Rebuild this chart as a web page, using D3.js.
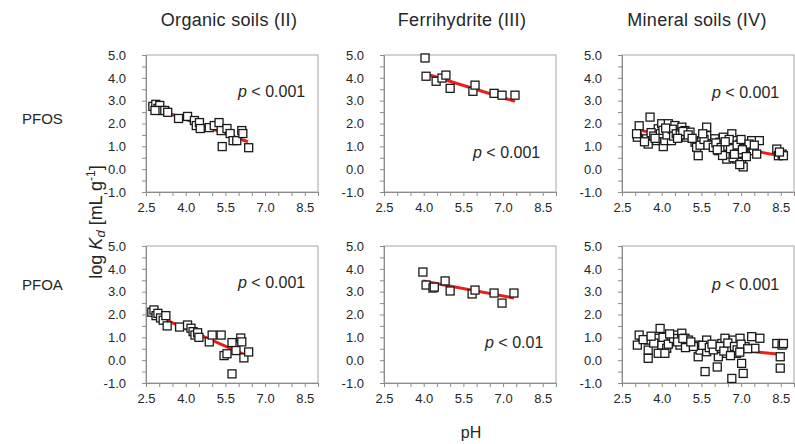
<!DOCTYPE html>
<html>
<head>
<meta charset="utf-8">
<script src="https://cdn.jsdelivr.net/npm/d3@7"></script>
<style>
  body { margin: 0; background: #fff; }
  svg text { font-family: "Liberation Sans", Arial, sans-serif; fill: #262626; }
</style>
</head>
<body>
<svg id="chart" width="795" height="444"></svg>
<script>
// ---- data (pH, log Kd) ----
const colTitles = ["Organic soils (II)", "Ferrihydrite (III)", "Mineral soils (IV)"];
const rowTitles = ["PFOS", "PFOA"];
const pLabels = [["< 0.001", "< 0.001", "< 0.001"], ["< 0.001", "< 0.01", "< 0.001"]];
const xTickLabels = [2.5, 4.0, 5.5, 7.0, 8.5];
const yTickLabels = [-1, 0, 1, 2, 3, 4, 5];

const orgPfosPh = [2.76, 2.87, 2.95, 3.02, 3.10, 2.84, 3.21, 3.32, 3.73, 4.07, 4.33, 4.40, 4.52, 4.55, 4.89, 5.08, 5.26, 5.34, 5.56, 5.68, 5.38, 5.79, 5.93, 6.12, 6.16, 6.38];
const orgPfosKd = [2.75, 2.84, 2.66, 2.79, 2.57, 2.57, 2.57, 2.49, 2.22, 2.31, 2.13, 1.91, 2.04, 1.78, 1.82, 1.91, 2.04, 1.69, 1.78, 1.56, 0.99, 1.25, 1.25, 1.69, 1.56, 0.94];
const orgPfosFit = [[2.76, 2.70], [6.35, 1.20]];

const ferPfosPh = [4.05, 4.09, 4.47, 4.69, 4.84, 5.00, 5.86, 5.94, 6.66, 6.96, 7.45];
const ferPfosKd = [4.87, 4.07, 3.85, 3.99, 4.12, 3.54, 3.41, 3.68, 3.32, 3.24, 3.24];
const ferPfosFit = [[4.01, 4.20], [7.45, 2.97]];

const minPfosPh = [3.08, 3.15, 3.43, 3.49, 3.56, 3.81, 3.87, 4.00, 4.06, 4.12, 4.25, 4.31, 4.37, 4.50, 4.63, 4.76, 4.88, 4.94, 5.07, 5.26, 5.32, 5.38, 5.51, 5.70, 5.70, 5.89, 6.01, 6.14, 6.20, 6.33, 6.39, 6.46, 6.58, 6.65, 6.71, 6.77, 6.83, 6.96, 7.02, 7.08, 7.15, 7.40, 7.46, 7.59, 7.69, 8.35, 8.41, 8.55, 8.60,
  3.05, 3.60, 3.70, 3.95, 4.05, 4.20, 4.40, 4.45, 4.55, 4.70, 4.80, 5.00, 5.45, 5.60, 5.75, 5.95, 6.05, 6.25, 6.30, 6.50, 6.55, 6.60, 6.70, 6.85, 6.90, 7.00, 7.10, 7.30, 7.50, 8.45,
  3.35, 3.75, 4.15, 4.60, 5.15, 5.55, 6.10, 6.40, 6.75, 7.05, 7.20, 6.95];
const minPfosKd = [1.40, 1.90, 1.33, 1.10, 2.28, 1.25, 1.77, 1.99, 0.99, 1.25, 1.99, 1.62, 1.25, 1.91, 1.62, 1.84, 1.69, 1.40, 1.62, 1.18, 0.96, 0.59, 1.25, 1.84, 1.47, 1.10, 1.33, 0.81, 1.18, 1.40, 0.81, 0.44, 0.66, 1.55, 1.25, 0.88, 0.44, 1.10, 0.30, 0.10, 0.66, 1.25, 0.81, 0.66, 1.25, 0.88, 0.59, 0.66, 0.59,
  1.55, 1.60, 1.45, 1.55, 1.70, 1.50, 1.75, 1.45, 1.55, 1.50, 1.65, 1.50, 1.05, 1.30, 1.05, 0.95, 1.15, 0.95, 0.60, 1.00, 1.30, 0.90, 0.50, 1.05, 0.70, 1.30, 0.90, 1.10, 1.05, 0.75,
  1.20, 1.35, 1.80, 1.35, 1.35, 1.55, 0.85, 1.20, 0.65, 0.85, 0.55, 0.20];
const minPfosFit = [[3.07, 1.72], [8.66, 0.55]];

const orgPfoaPh = [2.72, 2.80, 2.88, 2.95, 3.05, 3.15, 3.25, 3.30, 3.77, 4.07, 4.20, 4.28, 4.35, 4.45, 4.50, 4.89, 5.00, 5.34, 5.45, 5.56, 5.75, 5.75, 5.90, 6.08, 6.12, 6.20, 6.38];
const orgPfoaKd = [2.10, 2.20, 1.95, 2.05, 1.85, 1.75, 1.95, 1.50, 1.45, 1.54, 1.40, 1.25, 1.10, 1.20, 1.00, 0.80, 1.10, 1.10, 0.20, 0.28, 0.77, -0.60, 0.42, 0.97, 0.80, 0.10, 0.36];
const orgPfoaFit = [[2.76, 2.02], [6.35, 0.18]];

const ferPfoaPh = [3.97, 4.09, 4.35, 4.40, 4.81, 5.00, 5.83, 5.94, 6.66, 6.96, 7.41];
const ferPfoaKd = [3.86, 3.29, 3.16, 3.20, 3.47, 3.03, 2.90, 3.07, 2.94, 2.50, 2.94];
const ferPfoaFit = [[3.97, 3.47], [7.41, 2.72]];

const minPfoaPh = [3.15, 3.08, 3.49, 3.49, 3.49, 3.94, 3.87, 4.00, 3.87, 4.19, 4.12, 4.38, 4.57, 4.76, 4.69, 4.88, 5.01, 5.32, 5.38, 5.45, 5.70, 5.70, 5.64, 6.08, 6.14, 6.27, 6.39, 6.46, 6.58, 6.65, 6.71, 6.83, 6.90, 6.96, 7.02, 7.08, 7.15, 7.40, 7.52, 7.71, 8.35, 8.55, 8.48, 8.48, 8.60,
  3.30, 3.70, 4.05, 4.25, 4.45, 4.60, 4.90, 5.20, 5.55, 5.80, 5.95, 6.20, 6.35, 6.50, 6.75, 6.85, 7.00, 7.25, 6.10,
  3.60, 4.30, 4.80, 5.10, 5.90, 6.60, 6.95];
const minPfoaKd = [1.10, 0.66, 0.88, 0.44, 0.08, 1.39, 0.96, 0.66, 0.30, 0.52, 0.30, 0.88, 1.10, 1.18, 0.66, 0.96, 0.88, 0.66, 0.15, 0.44, 0.88, 0.37, -0.50, 0.52, 0.15, 0.73, 0.96, 0.30, 0.44, -0.80, 0.88, 0.30, 0.59, 0.96, -0.14, -0.58, 0.59, 1.03, 0.52, 0.96, 0.73, 0.66, 0.15, -0.35, 0.73,
  0.90, 0.75, 1.00, 0.70, 0.95, 0.80, 0.55, 0.60, 0.65, 0.55, 0.45, 0.60, 0.40, 0.75, 0.60, 0.45, 0.70, 0.50, -0.30,
  1.05, 1.15, 0.95, 0.80, 0.70, 0.20, 0.35];
const minPfoaFit = [[3.07, 0.88], [8.36, 0.27]];

// ---- layout ----
const panelLeft = [146, 384, 622];
const panelTop = [55, 246];
const pw = 172, ph = 137;
// p-value label offset inside each panel [dx, baseline dy]
const pPos = [[[92, 42], [89, 103], [90, 43]], [[92, 42], [101, 102], [90, 44]]];

const panels = [
  [[orgPfosPh, orgPfosKd, orgPfosFit], [ferPfosPh, ferPfosKd, ferPfosFit], [minPfosPh, minPfosKd, minPfosFit]],
  [[orgPfoaPh, orgPfoaKd, orgPfoaFit], [ferPfoaPh, ferPfoaKd, ferPfoaFit], [minPfoaPh, minPfoaKd, minPfoaFit]]
];

const svg = d3.select("#chart");
const axisCol = "#8c8c8c";

panels.forEach((row, r) => {
  row.forEach((p, c) => {
    const x0 = panelLeft[c], y0 = panelTop[r];
    const x = d3.scaleLinear().domain([2.5, 9.0]).range([x0, x0 + pw]);
    const y = d3.scaleLinear().domain([-1, 5]).range([y0 + ph, y0]);
    const g = svg.append("g");

    // frame (top / right)
    g.append("rect")
      .attr("x", x0).attr("y", y0).attr("width", pw).attr("height", ph)
      .attr("fill", "none").attr("stroke", "#a6a6a6").attr("stroke-width", 1);

    const xAxis = d3.axisBottom(x)
      .tickValues(d3.range(2.5, 9.01, 0.5))
      .tickSize(4).tickPadding(7)
      .tickFormat(d => xTickLabels.some(v => Math.abs(v - d) < 1e-6) ? d3.format(".1f")(d) : "");
    const ax = g.append("g").attr("transform", "translate(0," + (y0 + ph) + ")").call(xAxis);

    const yAxis = d3.axisLeft(y)
      .tickValues(d3.range(-1, 5.01, 0.5))
      .tickSize(4).tickPadding(16)
      .tickFormat(d => yTickLabels.some(v => Math.abs(v - d) < 1e-6) ? d3.format(".1f")(d).replace("−", "-") : "");
    const ay = g.append("g").attr("transform", "translate(" + x0 + ",0)").call(yAxis);

    [ax, ay].forEach(a => {
      a.select(".domain").attr("stroke", axisCol);
      a.selectAll(".tick line").attr("stroke", axisCol);
      a.selectAll(".tick text").attr("font-size", 13).attr("font-family", "Liberation Sans, Arial, sans-serif").attr("fill", "#333");
    });

    // regression line
    g.append("path")
      .datum(p[2])
      .attr("d", d3.line().x(d => x(d[0])).y(d => y(d[1])))
      .attr("stroke", "#e8201c").attr("stroke-width", 3).attr("fill", "none");

    // points
    const pts = p[0].map((v, i) => [v, p[1][i]]);
    const s = 8;
    g.selectAll("rect.pt")
      .data(pts)
      .enter()
      .append("rect")
      .attr("class", "pt")
      .attr("x", d => x(d[0]) - s / 2)
      .attr("y", d => y(d[1]) - s / 2)
      .attr("width", s).attr("height", s)
      .attr("fill", "#fff").attr("stroke", "#1a1a1a").attr("stroke-width", 1.3);

    // p-value
    const t = g.append("text")
      .attr("x", x0 + pPos[r][c][0]).attr("y", y0 + pPos[r][c][1])
      .attr("font-size", 16);
    t.append("tspan").attr("font-style", "italic").text("p");
    t.append("tspan").text(" " + pLabels[r][c]);
  });
});

// column titles
const titleX = [229, 462, 697];
svg.selectAll("text.coltitle")
  .data(colTitles)
  .enter()
  .append("text")
  .attr("class", "coltitle")
  .attr("x", (d, i) => titleX[i]).attr("y", 26)
  .attr("text-anchor", "middle").attr("font-size", 18)
  .attr("letter-spacing", 0.3)
  .text(d => d);

// row titles
svg.selectAll("text.rowtitle")
  .data(rowTitles)
  .enter()
  .append("text")
  .attr("class", "rowtitle")
  .attr("x", 22).attr("y", (d, i) => [124, 290][i])
  .attr("font-size", 15)
  .text(d => d);

// y label
const yl = svg.append("text")
  .attr("transform", "translate(102,222) rotate(-90)")
  .attr("text-anchor", "middle").attr("font-size", 18);
yl.append("tspan").text("log ");
yl.append("tspan").attr("font-style", "italic").text("K");
yl.append("tspan").attr("font-style", "italic").attr("font-size", 13).attr("dy", 3).text("d");
yl.append("tspan").attr("dy", -3).text(" [mL g");
yl.append("tspan").attr("font-size", 12).attr("dy", -7).text("-1");
yl.append("tspan").attr("dy", 7).text("]");

// x label
svg.append("text")
  .attr("x", 471).attr("y", 438)
  .attr("text-anchor", "middle").attr("font-size", 16)
  .text("pH");
</script>
</body>
</html>
